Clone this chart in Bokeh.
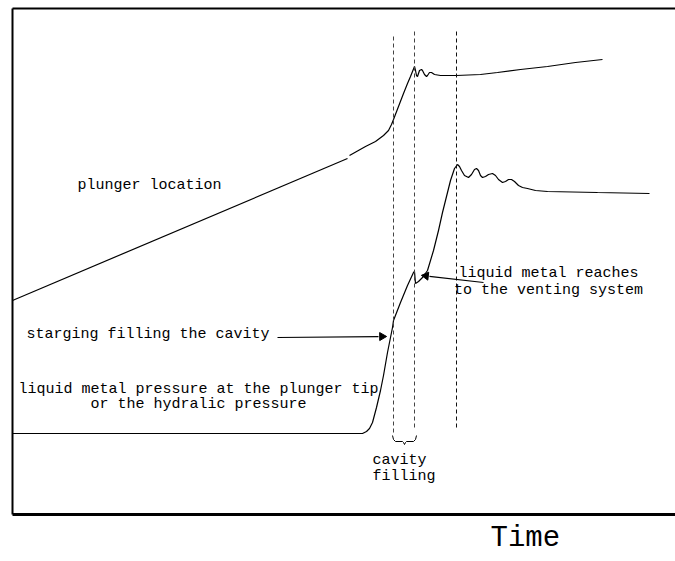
import math
from bokeh.plotting import figure
from bokeh.models import (Range1d, LinearAxis, FixedTicker, ColumnDataSource, Title)
from bokeh.core.properties import value
from bokeh.embed import file_html
from bokeh.resources import INLINE

# ---- data (time in arbitrary units, level in arbitrary units) ----
plunger_t1 = [0, 335]
plunger_v1 = [214, 356]
plunger_t2 = [337, 353, 363, 371, 376, 379, 381, 386, 391, 395,
              398, 400, 402, 403, 404, 405, 406, 407, 409, 410,
              412, 414, 415, 417, 419, 422, 428, 444, 468, 485,
              508, 535, 563, 590]
plunger_v2 = [359, 368, 373, 379, 384, 390, 395, 408, 421, 431,
              438, 443, 448, 444, 439, 438, 441, 444, 445, 444,
              440, 438, 439, 442, 442, 440, 439, 439, 440, 442,
              445, 448, 452, 455]

pressure_t = [0, 350, 354, 357, 360, 364, 368, 371, 375, 378,
              380, 381, 388, 395, 401, 402, 403, 406, 410, 415,
              421, 426, 430, 433, 438, 442, 445, 447, 449, 452,
              456, 459, 462, 464, 466, 468, 470, 473, 476, 480,
              483, 486, 490, 493, 496, 499, 502, 506, 510, 515,
              523, 535, 585, 637]
pressure_v = [81, 81, 83, 86, 92, 107, 124, 139, 162, 177,
              187, 194, 212, 229, 242, 243, 231, 233, 237, 244,
              264, 284, 302, 314, 334, 346, 350, 348, 344, 339,
              337, 340, 345, 346, 344, 339, 337, 338, 340, 341,
              339, 335, 332, 333, 335, 335, 333, 329, 327, 326,
              324, 323, 322, 321]

event_t = [381, 402, 444]
event_v0 = [82, 87, 87]
event_v1 = [481, 486, 486]
event_color = ["#444444", "#444444", "#111111"]

brace_t = [380, 381, 383, 390, 391, 392, 393, 394, 401, 403, 404]
brace_v = [79, 75, 73, 73, 72, 70, 72, 73, 73, 75, 79]

arrow_t0 = [265, 471]
arrow_v0 = [177, 232]
arrow_t1 = [373, 410]
arrow_v1 = [178, 239]

label_text = ["plunger location", "starging filling the cavity",
              "liquid metal reaches", "to the venting system",
              "liquid metal pressure at the plunger tip", "or the hydralic pressure",
              "cavity", "filling"]
label_t = [65, 14, 536, 536, 186, 186, 360, 360]
label_v = [329, 180, 241, 224, 125, 110, 54, 38]
label_align = ["left", "left", "center", "center", "center", "center", "left", "left"]

axis_title = "Time"

FONT = "Liberation Mono"
HEAD_BACK = 3.5

p = figure(width=675, height=561, output_backend="svg", toolbar_location=None,
           x_range=Range1d(0, 663), y_range=Range1d(0, 506),
           x_axis_type=None, y_axis_type=None,
           min_border_left=12, min_border_right=0, min_border_top=8, min_border_bottom=47)
p.outline_line_color = None
p.xgrid.visible = False
p.ygrid.visible = False
p.background_fill_color = "white"
p.border_fill_color = "white"


def make_axis(width):
    ax = LinearAxis(ticker=FixedTicker(ticks=[]))
    ax.major_tick_out = 0
    ax.major_tick_in = 0
    ax.minor_tick_out = 0
    ax.minor_tick_in = 0
    ax.major_label_standoff = 0
    ax.major_label_text_font_size = "0px"
    ax.axis_line_color = "black"
    ax.axis_line_width = width
    return ax


p.add_layout(make_axis(2), "left")
p.add_layout(make_axis(2), "above")
p.add_layout(make_axis(3), "below")

# curves
p.line(plunger_t1, plunger_v1, line_color="black", line_width=1.2)
p.line(plunger_t2, plunger_v2, line_color="black", line_width=1.2)
p.line(pressure_t, pressure_v, line_color="black", line_width=1.2)

# event lines
ev = ColumnDataSource(dict(t=event_t, v0=event_v0, v1=event_v1, c=event_color))
p.segment(x0="t", y0="v0", x1="t", y1="v1", source=ev, line_color="c",
          line_width=1, line_dash="4 3")

# brace
p.line(brace_t, brace_v, line_color="black", line_width=1)

# arrows: body segment + triangular head
ang, head_t, head_v, body_t1, body_v1 = [], [], [], [], []
for t0, v0, t1, v1 in zip(arrow_t0, arrow_v0, arrow_t1, arrow_v1):
    a = math.atan2(v1 - v0, t1 - t0)
    ang.append(a - math.pi / 2)
    head_t.append(t1 - HEAD_BACK * math.cos(a))
    head_v.append(v1 - HEAD_BACK * math.sin(a))
    body_t1.append(t1 - 2 * HEAD_BACK * math.cos(a))
    body_v1.append(v1 - 2 * HEAD_BACK * math.sin(a))
p.segment(x0=arrow_t0, y0=arrow_v0, x1=body_t1, y1=body_v1,
          line_color="black", line_width=1.2)
p.scatter(x=head_t, y=head_v, marker="triangle", size=8, angle=ang,
          fill_color="black", line_color="black", line_width=1)

# labels
lab = ColumnDataSource(dict(t=label_t, v=label_v, text=label_text, align=label_align))
p.text(x="t", y="v", text="text", source=lab, text_align="align",
       text_baseline="middle", text_font=value(FONT), text_font_size="15px",
       text_color="black")

p.add_layout(Title(text=axis_title, align="left", offset=478, text_font=FONT,
                   text_font_size="29px", text_font_style="normal",
                   text_color="black", standoff=10,
                   vertical_align="bottom"), "below")

open("out.html", "w").write(file_html(p, INLINE))
